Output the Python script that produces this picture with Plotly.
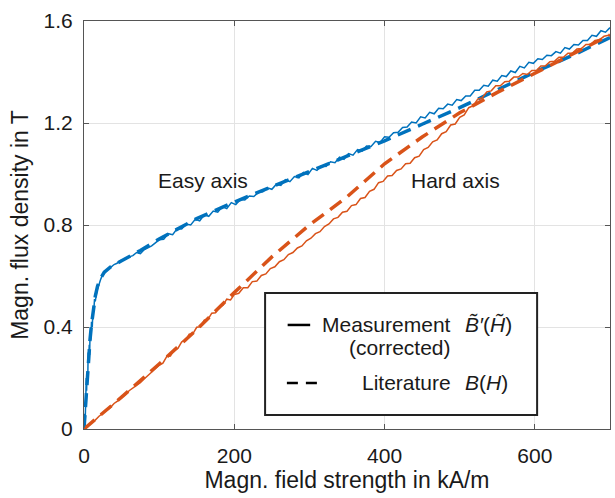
import plotly.graph_objects as go

# ---- data (H in kA/m, B in T) ----
easy_meas_H = [0, 1, 1.5, 2, 2.5, 3, 3.5, 4, 5, 5.5, 6, 7, 7.5, 8, 9, 10, 11, 12, 13, 14, 15, 17, 18, 20,
               22, 24, 27, 30, 33, 36, 40, 44, 48, 52, 56, 60, 65, 70, 75, 80, 85, 90, 95, 100, 106, 112,
               118, 124, 130, 136, 142, 148, 154, 160, 166, 172, 178, 184, 190, 196, 202, 208, 214, 220,
               226, 232, 238, 244, 250, 256, 262, 268, 274, 280, 286, 292, 298, 304, 310, 316, 322, 328,
               334, 340, 346, 352, 358, 364, 370, 376, 382, 388, 394, 400, 406, 412, 418, 424, 430, 436,
               442, 448, 454, 460, 466, 472, 478, 484, 490, 496, 502, 508, 514, 520, 526, 532, 538, 544,
               550, 556, 562, 568, 574, 580, 586, 592, 598, 604, 610, 616, 622, 628, 634, 640, 646, 652,
               658, 664, 670, 676, 682, 688, 694, 700]
easy_meas_B = [0, 0.06, 0.02, 0.13, 0.09, 0.2, 0.15, 0.22, 0.19, 0.3, 0.26, 0.33, 0.29, 0.37, 0.35, 0.42,
               0.4, 0.47, 0.46, 0.51, 0.5, 0.54, 0.55, 0.575, 0.585, 0.6, 0.61, 0.62, 0.63, 0.635, 0.645,
               0.65, 0.66, 0.662, 0.67, 0.675, 0.68, 0.692, 0.688, 0.703, 0.71, 0.718, 0.73,
               0.742, 0.744, 0.766, 0.762, 0.786, 0.784, 0.804, 0.8, 0.822, 0.816, 0.84, 0.834, 0.855,
               0.85, 0.872, 0.864, 0.888, 0.88, 0.9, 0.898, 0.914, 0.912, 0.928, 0.93, 0.946, 0.94, 0.96,
               0.955, 0.978, 0.97, 0.99, 0.985, 1.006, 0.998, 1.022, 1.014, 1.032, 1.03, 1.048, 1.044,
               1.066, 1.058, 1.08, 1.074, 1.096, 1.09, 1.11, 1.108, 1.128, 1.124, 1.146, 1.144, 1.162,
               1.164, 1.182, 1.184, 1.204, 1.2, 1.224, 1.22, 1.242, 1.236, 1.258, 1.256, 1.274, 1.27,
               1.292, 1.288, 1.306, 1.306, 1.328, 1.328, 1.348, 1.344, 1.368, 1.364, 1.386, 1.382, 1.404,
               1.398, 1.422, 1.416, 1.438, 1.434, 1.452, 1.449, 1.466, 1.464, 1.48, 1.474, 1.496, 1.49,
               1.508, 1.506, 1.524, 1.524, 1.544, 1.54, 1.562, 1.556, 1.574]

easy_lit_H = [0, 2, 4, 6, 8, 10, 12, 15, 18, 22, 27, 35, 50, 75, 100, 150, 200, 250, 300, 350, 400, 450,
              500, 550, 600, 650, 700]
easy_lit_B = [0, 0.1, 0.2, 0.28, 0.35, 0.41, 0.46, 0.52, 0.56, 0.59, 0.615, 0.635, 0.66, 0.70, 0.745,
              0.825, 0.89, 0.95, 1.01, 1.07, 1.13, 1.195, 1.26, 1.33, 1.40, 1.465, 1.535]

hard_meas_H = [0, 5, 10, 15, 20, 25, 30, 35, 40, 45, 50, 55, 60, 65, 70, 75, 80, 85, 90, 95, 100, 105,
               110, 115, 120, 125, 130, 135, 140, 145, 150, 155, 160, 165, 170, 175, 180, 185, 190, 195,
               200, 206, 212, 218, 224, 230, 236, 242, 248, 254, 260, 266, 272, 278, 284, 290, 296, 302,
               308, 314, 320, 326, 332, 338, 344, 350, 356, 362, 368, 374, 380, 386, 392, 398, 404, 410,
               416, 422, 428, 434, 440, 446, 452, 458, 464, 470, 476, 482, 488, 494, 500, 506, 512, 518,
               524, 530, 536, 542, 548, 554, 560, 566, 572, 578, 584, 590, 596, 602, 608, 614, 620, 626,
               632, 638, 644, 650, 656, 662, 668, 674, 680, 686, 692, 700]
hard_meas_B = [0, 0.01, 0.025, 0.035, 0.05, 0.062, 0.075, 0.084, 0.1, 0.11, 0.126, 0.134, 0.15, 0.16,
               0.172, 0.182, 0.196, 0.21, 0.225, 0.235,
               0.25, 0.258, 0.284, 0.286, 0.312, 0.316, 0.342, 0.346, 0.372, 0.374, 0.399, 0.401, 0.427,
               0.43, 0.454, 0.456, 0.478, 0.486, 0.509, 0.506, 0.527, 0.532, 0.554, 0.554, 0.578, 0.58,
               0.602, 0.608, 0.629, 0.636, 0.656, 0.664, 0.684, 0.692, 0.71, 0.718, 0.738, 0.748, 0.766,
               0.774, 0.794, 0.804, 0.824, 0.83, 0.85, 0.854, 0.876, 0.88, 0.904, 0.908, 0.932, 0.94,
               0.966, 0.971, 0.992, 0.994, 1.014, 1.02, 1.04, 1.042, 1.064, 1.07, 1.096, 1.104, 1.126,
               1.134, 1.158, 1.166, 1.192, 1.196, 1.222, 1.232, 1.26, 1.268, 1.294, 1.299, 1.322, 1.326,
               1.346, 1.346, 1.362, 1.364, 1.38, 1.38, 1.394, 1.39, 1.406, 1.406, 1.424, 1.424, 1.44,
               1.442, 1.458, 1.458, 1.474, 1.474, 1.49, 1.492, 1.508, 1.508, 1.524, 1.526, 1.54, 1.545]

hard_lit_H = [0, 50, 100, 150, 200, 250, 300, 350, 400, 450, 500, 550, 600, 650, 700]
hard_lit_B = [0, 0.125, 0.255, 0.39, 0.535, 0.675, 0.80, 0.91, 1.04, 1.145, 1.24, 1.32, 1.395, 1.47, 1.545]

x_ticks = [0, 200, 400, 600]
y_ticks = [0, 0.4, 0.8, 1.2, 1.6]
y_tick_text = ["0", "0.4", "0.8", "1.2", "1.6"]

BLUE = "#0072BD"
ORANGE = "#D95319"
FONT = "Liberation Sans, Arial, sans-serif"
TXT = "#1a1a1a"
DASH = "14px,8px"

fig = go.Figure()
fig.add_trace(go.Scatter(x=easy_lit_H, y=easy_lit_B, mode="lines",
                         line=dict(color=BLUE, width=3.5, dash=DASH)))
fig.add_trace(go.Scatter(x=hard_lit_H, y=hard_lit_B, mode="lines",
                         line=dict(color=ORANGE, width=3.5, dash=DASH)))
fig.add_trace(go.Scatter(x=easy_meas_H, y=easy_meas_B, mode="lines",
                         line=dict(color=BLUE, width=1.5)))
fig.add_trace(go.Scatter(x=hard_meas_H, y=hard_meas_B, mode="lines",
                         line=dict(color=ORANGE, width=1.5)))

axis_common = dict(showline=True, linecolor="#555555", linewidth=1, mirror="ticks",
                   ticks="inside", ticklen=5, tickcolor="#555555",
                   showgrid=True, gridcolor="#e3e3e3", gridwidth=1, zeroline=False,
                   tickfont=dict(family=FONT, size=21, color=TXT))

fig.update_layout(
    width=615, height=498,
    margin=dict(l=84, r=5, t=21, b=69),
    paper_bgcolor="white", plot_bgcolor="white",
    showlegend=False,
    font=dict(family=FONT, color=TXT),
    xaxis=dict(range=[0, 700], tickvals=x_ticks, ticklabelstandoff=8,
               title=dict(text="Magn. field strength in kA/m", font=dict(size=23), standoff=4),
               **axis_common),
    yaxis=dict(range=[0, 1.6], tickvals=y_ticks, ticktext=y_tick_text, ticklabelstandoff=6,
               title=dict(text="Magn. flux density in T", font=dict(size=23), standoff=8),
               **axis_common),
)

afont = dict(size=21, family=FONT, color=TXT)
fig.add_annotation(x=158, y=0.976, xref="x", yref="y", text="Easy axis", showarrow=False, font=afont)
fig.add_annotation(x=494, y=0.976, xref="x", yref="y", text="Hard axis", showarrow=False, font=afont)

# custom legend box
fig.add_shape(type="rect", x0=241, x1=603, y0=0.055, y1=0.533, xref="x", yref="y",
              line=dict(color="#222222", width=2), fillcolor="white", layer="above")
fig.add_shape(type="line", x0=271, x1=301, y0=0.408, y1=0.408, xref="x", yref="y",
              line=dict(color="black", width=2.5), layer="above")
fig.add_shape(type="line", x0=270, x1=314, y0=0.18, y1=0.18, xref="x", yref="y",
              line=dict(color="black", width=2.5, dash="11px,8px"), layer="above")

fig.add_annotation(x=491, y=0.408, xref="x", yref="y", text="Measurement", showarrow=False,
                   xanchor="right", font=afont)
fig.add_annotation(x=491, y=0.318, xref="x", yref="y", text="(corrected)", showarrow=False,
                   xanchor="right", font=afont)
fig.add_annotation(x=491, y=0.184, xref="x", yref="y", text="Literature", showarrow=False,
                   xanchor="right", font=afont)
fig.add_annotation(x=505, y=0.408, xref="x", yref="y",
                   text="<i>B\u0303\u2032</i>(<i>H\u0303</i>)", showarrow=False,
                   xanchor="left", font=afont)
fig.add_annotation(x=505, y=0.184, xref="x", yref="y", text="<i>B</i>(<i>H</i>)", showarrow=False,
                   xanchor="left", font=afont)

fig.write_html("out.html")
